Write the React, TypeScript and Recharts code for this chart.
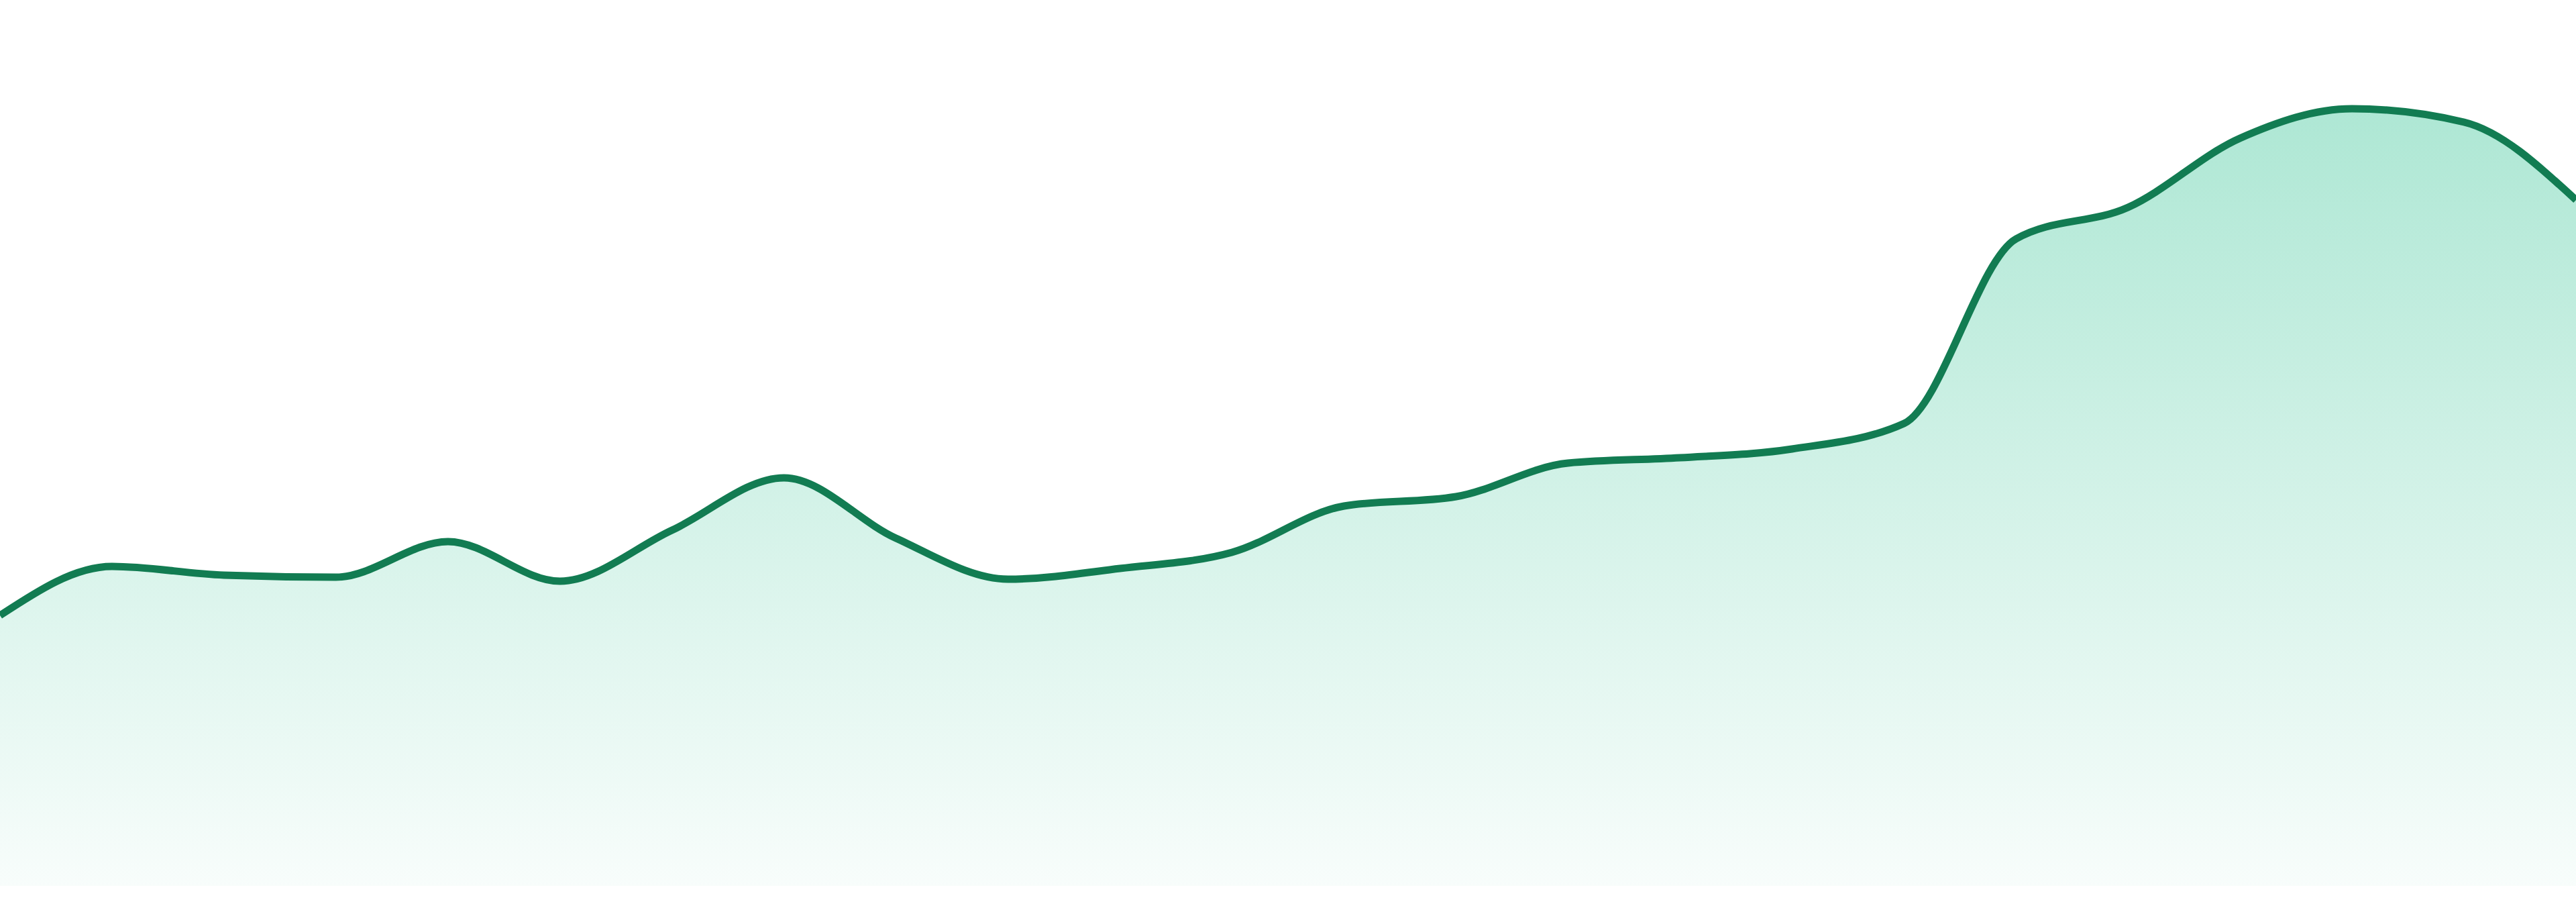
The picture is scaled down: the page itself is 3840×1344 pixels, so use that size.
import React from 'react';
import { AreaChart, Area, XAxis, YAxis } from 'recharts';

const categories: string[] = [
  'P1', 'P2', 'P3', 'P4', 'P5', 'P6', 'P7', 'P8', 'P9', 'P10', 'P11', 'P12',
  'P13', 'P14', 'P15', 'P16', 'P17', 'P18', 'P19', 'P20', 'P21', 'P22', 'P23', 'P24',
];

const values: number[] = [
  40.3, 47.6, 46.3, 46.0, 51.3, 45.4, 53.0, 60.8, 51.8, 45.7, 47.3, 49.7,
  56.6, 58.0, 63.0, 63.8, 65.1, 68.9, 96.4, 101.1, 111.4, 115.8, 113.8, 102.2,
];

const yDomain: [number, number] = [0, 132];

const data = categories.map((c, i) => ({ name: c, value: values[i] }));

export default function App() {
  return (
    <div style={{ position: 'absolute', left: 0, top: 0, width: 3840, height: 1344, background: '#ffffff' }}>
      <AreaChart width={3840} height={1344} data={data} margin={{ top: 0, right: 0, bottom: 24, left: 0 }}>
        <defs>
          <linearGradient id="areaFill" x1="0" y1="0" x2="0" y2="1">
            <stop offset="0%" stopColor="#10b981" stopOpacity={0.34} />
            <stop offset="100%" stopColor="#10b981" stopOpacity={0.03} />
          </linearGradient>
        </defs>
        <XAxis dataKey="name" hide />
        <YAxis hide domain={yDomain} />
        <Area
          type="monotone"
          dataKey="value"
          stroke="#127c52"
          strokeWidth={11}
          fill="url(#areaFill)"
          fillOpacity={1}
          isAnimationActive={false}
          dot={false}
          activeDot={false}
        />
      </AreaChart>
    </div>
  );
}
